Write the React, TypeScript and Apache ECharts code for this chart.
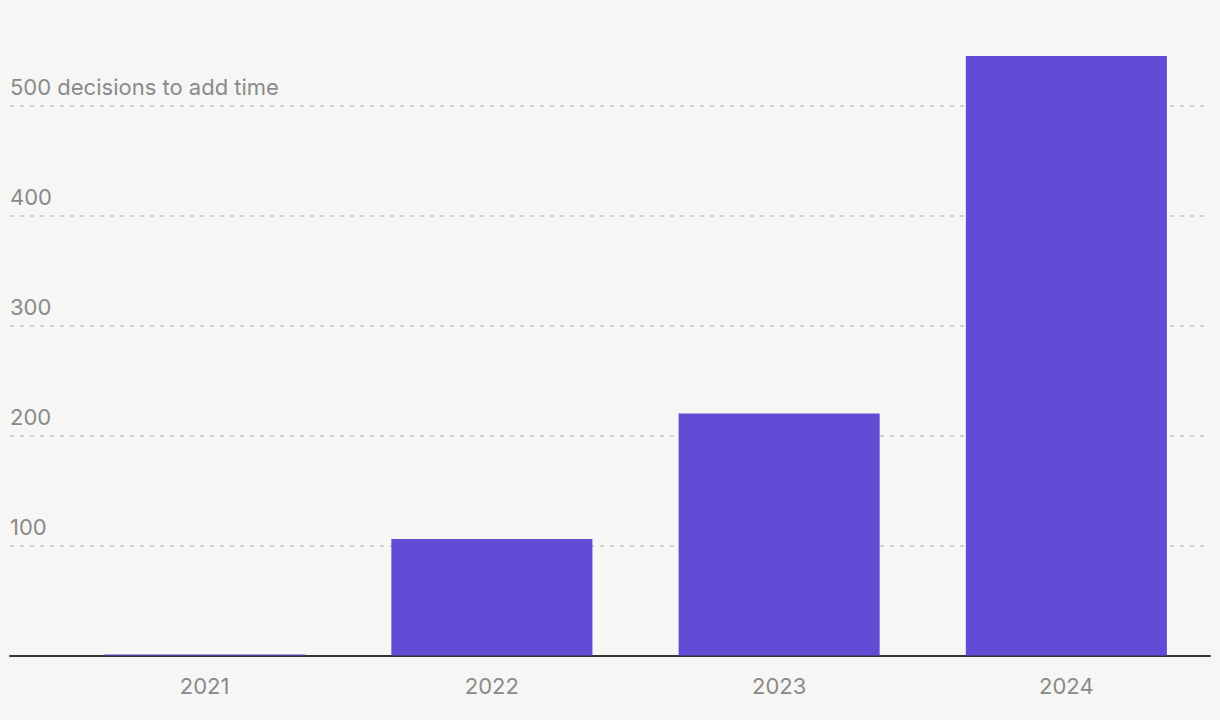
import React, { useEffect, useRef } from "react";
import * as echarts from "echarts";

const years = ["2021", "2022", "2023", "2024"];
const decisions = [1, 106, 220, 545];
const yTicks = [0, 100, 200, 300, 400, 500, 600];
const topLabelSuffix = " decisions to add time";

const FONT = "Inter, 'Noto Sans', sans-serif";
const GRAY = "#8a8a8a";

export default function App() {
  const ref = useRef<HTMLDivElement>(null);
  useEffect(() => {
    document.body.style.margin = "0";
    const chart = echarts.init(ref.current!, null, { renderer: "svg" });
    const yMax = yTicks[yTicks.length - 1];
    const gridTop = 655.5 - (yMax / 100) * 110;
    const gridBottom = 720 - 655.5;
    chart.setOption({
      animation: false,
      backgroundColor: "#f6f6f4",
      grid: [
        { left: 10, right: 10, top: gridTop, bottom: gridBottom, outerBoundsMode: "none", containLabel: false },
        { left: 61, right: 10, top: gridTop, bottom: gridBottom, outerBoundsMode: "none", containLabel: false },
      ],
      xAxis: [
        {
          type: "value",
          gridIndex: 0,
          min: 0,
          max: 1,
          axisLine: { show: true, onZero: false, lineStyle: { color: "#333333", width: 2 } },
          axisTick: { show: false },
          axisLabel: { show: false },
          splitLine: { show: false },
        },
        {
          type: "category",
          gridIndex: 1,
          data: years,
          axisLine: { show: false },
          axisTick: { show: false },
          axisLabel: {
            color: GRAY,
            fontFamily: FONT,
            fontSize: 22,
            margin: 19,
          },
        },
      ],
      yAxis: [
        {
          type: "value",
          gridIndex: 0,
          min: 0,
          max: yMax,
          interval: 100,
          axisLine: { show: false },
          axisTick: { show: false },
          axisLabel: {
            inside: true,
            margin: 0,
            align: "left",
            verticalAlign: "bottom",
            lineHeight: 22,
            padding: [0, 0, 8, 0],
            color: GRAY,
            fontFamily: FONT,
            fontSize: 22,
            formatter: (v: number) =>
              v === 0 || v === yMax ? "" : v === 500 ? `${v}${topLabelSuffix}` : `${v}`,
          },
          splitLine: {
            show: true,
            lineStyle: { color: "#c4c4c4", width: 1.5, type: [4, 6] },
          },
        },
        {
          type: "value",
          gridIndex: 1,
          min: 0,
          max: yMax,
          interval: 100,
          show: false,
          splitLine: { show: false },
        },
      ],
      series: [
        {
          type: "bar",
          xAxisIndex: 1,
          yAxisIndex: 1,
          data: decisions,
          barCategoryGap: "30%",
          itemStyle: { color: "#614cd6" },
          z: 1,
        },
      ],
    });
    return () => chart.dispose();
  }, []);
  return <div ref={ref} style={{ width: 1220, height: 720 }} />;
}
